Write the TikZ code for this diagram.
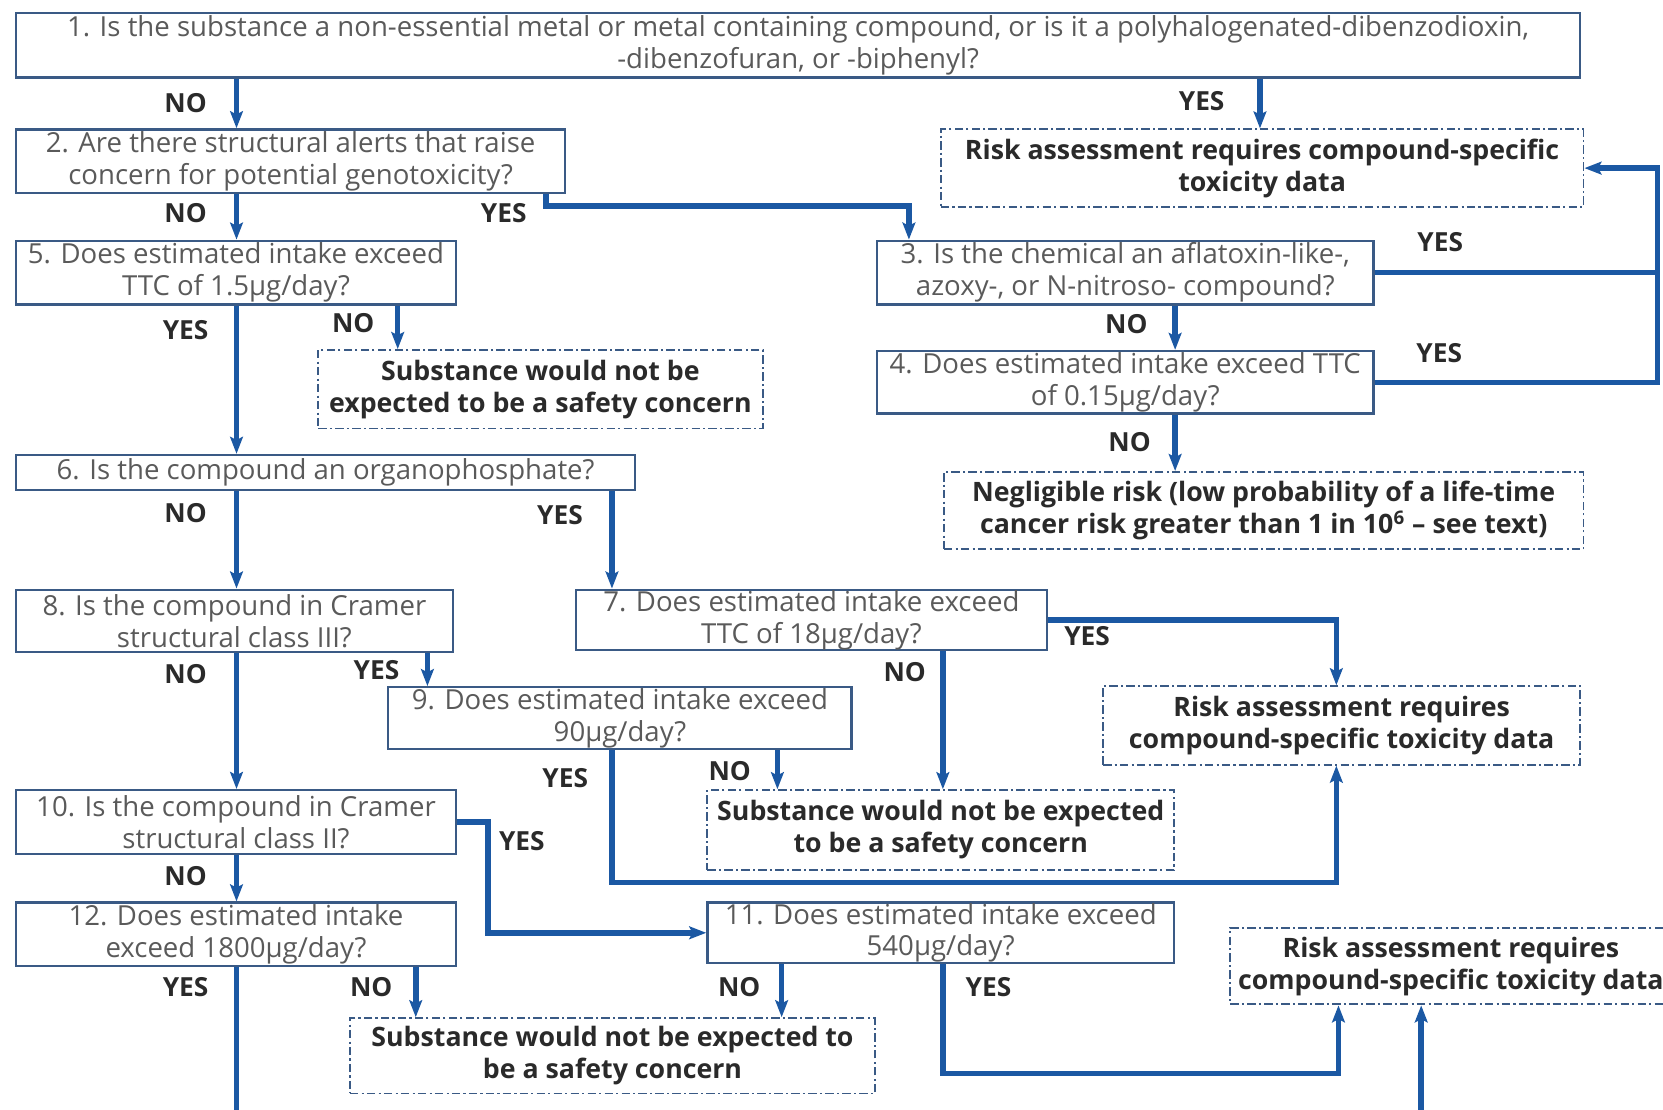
\documentclass[tikz,border=0pt]{standalone}
\usepackage{fontspec}
\setmainfont{Open Sans}
\usetikzlibrary{arrows.meta}
\definecolor{connblue}{HTML}{1B58A3}
\definecolor{bord}{HTML}{3A5A85}
\definecolor{qtext}{HTML}{5A5A5A}
\definecolor{rtext}{HTML}{2A2A2A}
\begin{document}
\begin{tikzpicture}[x=0.5pt,y=-0.5pt,
  qbox/.style={draw=bord, line width=1.1pt, fill=white, inner sep=0pt, align=center, text=qtext, font=\fontsize{13}{15}\selectfont},
  rbox/.style={draw=bord, line width=0.9pt, dash pattern=on 4pt off 1.5pt on 1pt off 1.5pt, fill=white, inner sep=0pt, align=center, text=rtext, font=\fontsize{12.6}{15}\selectfont\bfseries},
  lbl/.style={text=rtext, font=\fontsize{12.4}{14}\selectfont\bfseries, inner sep=0pt},
  link/.style={draw=connblue, line width=2.6pt},
  arr/.style={link, -{Stealth[length=8pt,width=6pt,inset=1.5pt]}},
]
\clip (0,0) rectangle (1568,1046);
% columns and rows
\coordinate (c223) at (223,0);
\coordinate (c1188) at (1188,0);
\coordinate (c515) at (515,0);
\coordinate (c857) at (857,0);
\coordinate (c1108) at (1108,0);
\coordinate (c375) at (375,0);
\coordinate (c577) at (577,0);
\coordinate (c889) at (889,0);
\coordinate (c403) at (403,0);
\coordinate (c733) at (733,0);
\coordinate (c1260) at (1260,0);
\coordinate (c460) at (460,0);
\coordinate (c392) at (392,0);
\coordinate (c737) at (737,0);
\coordinate (c1262) at (1262,0);
\coordinate (c1340) at (1340,0);
\coordinate (cR) at (1563,0);
\coordinate (r832) at (0,832);
\coordinate (r1012) at (0,1012);
\coordinate (rbot) at (0,1060);

% boxes
\node[qbox, minimum width=737.5pt, minimum height=30.5pt] (b1) at (752.5,42.5)
 {1. Is the substance a non-essential metal or metal containing compound, or is it a polyhalogenated-dibenzodioxin,\\ -dibenzofuran, or -biphenyl?};
\node[rbox, minimum width=303pt, minimum height=36.5pt] (r1) at (1190,158.5)
 {Risk assessment requires compound-specific\\ toxicity data};
\node[qbox, minimum width=259pt, minimum height=30pt] (b2) at (274,152)
 {2. Are there structural alerts that raise\\ concern for potential genotoxicity?};
\node[qbox, minimum width=207.5pt, minimum height=30pt] (b5) at (222.5,257)
 {5. Does estimated intake exceed\\ TTC of 1.5µg/day?};
\node[qbox, minimum width=234pt, minimum height=30pt] (b3) at (1061,257)
 {3. Is the chemical an aflatoxin-like-,\\ azoxy-, or N-nitroso- compound?};
\node[qbox, minimum width=234pt, minimum height=29.5pt] (b4) at (1061,360.5)
 {4. Does estimated intake exceed TTC\\ of 0.15µg/day?};
\node[rbox, minimum width=301.5pt, minimum height=36.5pt] (n1) at (1191.5,481.5)
 {Negligible risk (low probability of a life-time\\ cancer risk greater than 1 in 10\textsuperscript{6} – see text)};
\node[rbox, minimum width=209.5pt, minimum height=37pt] (s1) at (509.5,367)
 {Substance would not be\\ expected to be a safety concern};
\node[qbox, minimum width=292pt, minimum height=16.5pt] (b6) at (307,445.5)
 {6. Is the compound an organophosphate?};
\node[qbox, minimum width=206pt, minimum height=29.5pt] (b8) at (221,585.5)
 {8. Is the compound in Cramer\\ structural class III?};
\node[qbox, minimum width=222pt, minimum height=28.5pt] (b7) at (765,584.5)
 {7. Does estimated intake exceed\\ TTC of 18µg/day?};
\node[rbox, minimum width=225pt, minimum height=37pt] (r2) at (1265,684)
 {Risk assessment requires\\ compound-specific toxicity data};
\node[qbox, minimum width=218.5pt, minimum height=29pt] (b9) at (584.5,677)
 {9. Does estimated intake exceed\\ 90µg/day?};
\node[rbox, minimum width=220pt, minimum height=37.5pt] (s2) at (887,782.5)
 {Substance would not be expected\\ to be a safety concern};
\node[qbox, minimum width=207.5pt, minimum height=30pt] (b10) at (222.5,775)
 {10. Is the compound in Cramer\\ structural class II?};
\node[qbox, minimum width=207.5pt, minimum height=30pt] (b12) at (222.5,881)
 {12. Does estimated intake\\ exceed 1800µg/day?};
\node[qbox, minimum width=220pt, minimum height=28.5pt] (b11) at (887,879.5)
 {11. Does estimated intake exceed\\ 540µg/day?};
\node[rbox, minimum width=247.5pt, minimum height=35.5pt] (s3) at (577.5,995.5)
 {Substance would not be expected to\\ be a safety concern};
\node[rbox, minimum width=208pt, minimum height=36pt] (r3) at (1368,911)
 {Risk assessment requires\\ compound-specific toxicity data};

% connectors
\draw[arr] (b1.south -| c223) -- (b2.north -| c223);
\draw[arr] (b1.south -| c1188) -- (r1.north -| c1188);
\draw[arr] (b2.south -| c223) -- (b5.north -| c223);
\draw[arr] (b2.south -| c515) -- ++(0,11) -| (b3.north -| c857);
\draw[arr] (b3.east) -- (b3.east -| cR) |- (r1.east);
\draw[link] (b4.east) -| (cR |- b3.east);
\draw[arr] (b3.south -| c1108) -- (b4.north -| c1108);
\draw[arr] (b4.south -| c1108) -- (n1.north -| c1108);
\draw[arr] (b5.south -| c223) -- (b6.north -| c223);
\draw[arr] (b5.south -| c375) -- (s1.north -| c375);
\draw[arr] (b6.south -| c223) -- (b8.north -| c223);
\draw[arr] (b6.south -| c577) -- (b7.north -| c577);
\draw[arr] (b7.east) -| (r2.north -| c1260);
\draw[arr] (b7.south -| c889) -- (s2.north -| c889);
\draw[arr] (b8.south -| c403) -- (b9.north -| c403);
\draw[arr] (b8.south -| c223) -- (b10.north -| c223);
\draw[arr] (b9.south -| c733) -- (s2.north -| c733);
\draw[arr] (b9.south -| c577) -- (c577 |- r832) -| (r2.south -| c1260);
\draw[arr] (b10.east) -| (c460 |- b11.west) -- (b11.west);
\draw[arr] (b10.south -| c223) -- (b12.north -| c223);
\draw[link] (b12.south -| c223) -- (c223 |- rbot);
\draw[arr] (b12.south -| c392) -- (s3.north -| c392);
\draw[arr] (b11.south -| c737) -- (s3.north -| c737);
\draw[arr] (b11.south -| c889) -- (c889 |- r1012) -| (r3.south -| c1262);
\draw[arr] (c1340 |- rbot) -- (r3.south -| c1340);

% labels
\node[lbl] (l1n) at (175,97) {NO};
\node[lbl] (l1y) at (1133,95) {YES};
\node[lbl] (l2n) at (175,201) {NO};
\node[lbl] (l2y) at (475,201) {YES};
\node[lbl] (l3y) at (1358,228) {YES};
\node[lbl] (l3n) at (1062,306) {NO};
\node[lbl] (l4y) at (1357,333) {YES};
\node[lbl] (l4n) at (1065,417) {NO};
\node[lbl] (l5y) at (175,311) {YES};
\node[lbl] (l5n) at (333,305) {NO};
\node[lbl] (l6n) at (175,484) {NO};
\node[lbl] (l6y) at (528,486) {YES};
\node[lbl] (l8n) at (175,636) {NO};
\node[lbl] (l8y) at (355,632) {YES};
\node[lbl] (l7y) at (1025,600) {YES};
\node[lbl] (l7n) at (853,634) {NO};
\node[lbl] (l9y) at (533,734) {YES};
\node[lbl] (l9n) at (688,727) {NO};
\node[lbl] (l10y) at (492,793) {YES};
\node[lbl] (l10n) at (175,826) {NO};
\node[lbl] (l12y) at (175,931) {YES};
\node[lbl] (l12n) at (350,931) {NO};
\node[lbl] (l11n) at (697,931) {NO};
\node[lbl] (l11y) at (932,931) {YES};
\end{tikzpicture}
\end{document}
